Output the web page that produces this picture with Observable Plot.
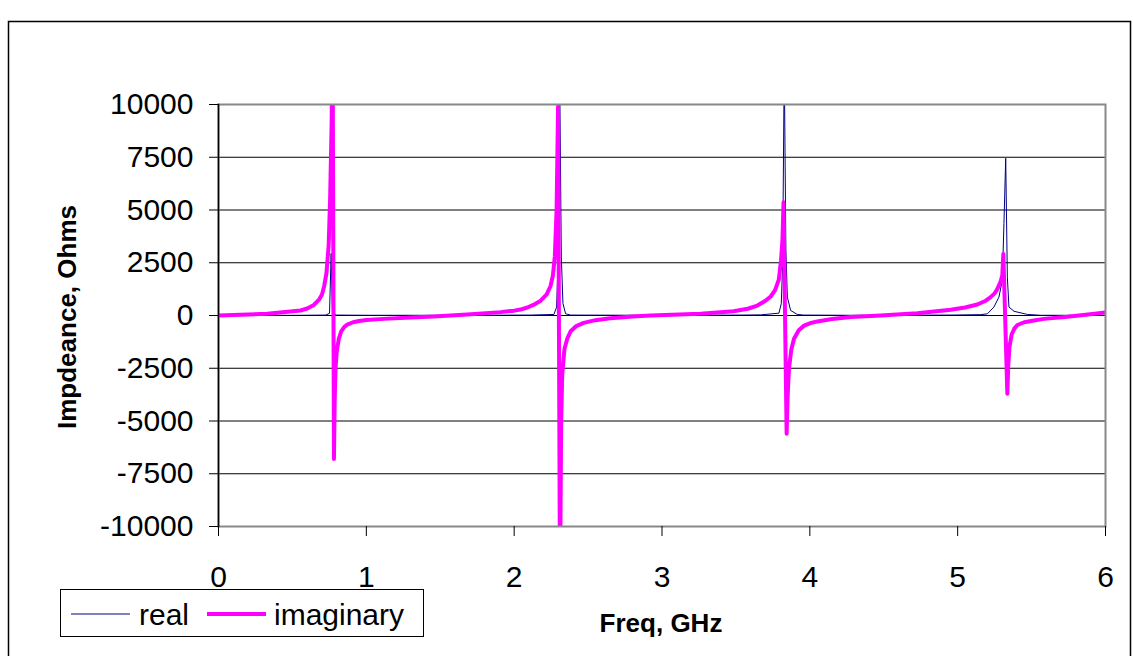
<!DOCTYPE html>
<html>
<head>
<meta charset="utf-8">
<script src="https://cdn.jsdelivr.net/npm/d3@7"></script>
<script src="https://cdn.jsdelivr.net/npm/@observablehq/plot@0.6"></script>
<style>
  html, body { margin: 0; padding: 0; background: #fff; }
  #chart { position: relative; width: 1133px; height: 656px; overflow: hidden; }
</style>
</head>
<body>
<div id="chart"></div>
<script>
// ---- data ----
const xTicks = [0, 1, 2, 3, 4, 5, 6];
const yTicks = [-10000, -7500, -5000, -2500, 0, 2500, 5000, 7500, 10000];

const realFreq = [0.000, 0.555, 0.724, 0.751, 0.762, 0.771, 0.798, 1.028, 1.570, 2.111,
  2.269, 2.287, 2.298, 2.307, 2.319, 2.330, 2.348, 2.382, 2.923, 3.532,
  3.667, 3.791, 3.807, 3.816, 3.827, 3.838, 3.848, 3.870, 3.915, 3.958,
  4.276, 4.953, 5.156, 5.201, 5.245, 5.279, 5.302, 5.313, 5.325, 5.336,
  5.347, 5.381, 5.472, 5.562, 6.000];
const realVals = [0, 10, 20, 100, 2940, 100, 20, 10, 10, 20,
  50, 400, 2770, 12000, 2770, 570, 80, 20, 10, 20,
  30, 110, 570, 2460, 12000, 3080, 870, 240, 50, 20,
  10, 20, 40, 80, 400, 870, 1660, 4360, 7450, 1820,
  400, 200, 50, 10, 10];

const imagFreq = [
  0.000, 0.149, 0.330, 0.555, 0.600, 0.645, 0.680, 0.700, 0.715, 0.730,
  0.745, 0.755, 0.765, 0.772, 0.781, 0.786, 0.792, 0.800, 0.814, 0.830,
  0.850, 0.871, 0.910, 0.950, 1.000, 1.116, 1.300, 1.455, 1.683, 1.908,
  2.000, 2.043, 2.089, 2.130, 2.179, 2.220, 2.246, 2.262, 2.275, 2.287,
  2.297, 2.310, 2.318, 2.325, 2.340, 2.359, 2.382, 2.420, 2.470, 2.550,
  2.650, 2.800, 2.923, 3.261, 3.484, 3.580, 3.645, 3.700, 3.735, 3.765,
  3.790, 3.805, 3.815, 3.822, 3.843, 3.850, 3.859, 3.875, 3.893, 3.925,
  3.961, 4.000, 4.051, 4.150, 4.276, 4.479, 4.727, 4.953, 5.050, 5.133,
  5.190, 5.223, 5.250, 5.268, 5.290, 5.302, 5.309, 5.336, 5.342, 5.350,
  5.365, 5.385, 5.404, 5.450, 5.516, 5.582, 5.742, 5.866, 6.000];
const imagVals = [
  0, 30, 80, 237, 330, 500, 750, 1000, 1400, 2000,
  3300, 5500, 9000, 13000, -6800, -4000, -2460, -1700, -1100, -750,
  -550, -430, -320, -260, -210, -160, -100, -50, 50, 160,
  230, 280, 380, 500, 700, 1000, 1400, 1900, 2800, 5000,
  9900, -13000, -5000, -2800, -1600, -1100, -750, -500, -350, -220,
  -130, -50, 0, 80, 200, 320, 470, 700, 900, 1200,
  1700, 2600, 3600, 5370, -5600, -3800, -2500, -1600, -1100, -700,
  -480, -370, -280, -170, -70, 0, 110, 270, 380, 520,
  700, 870, 1050, 1250, 1600, 1900, 2920, -3710, -2400, -1500,
  -900, -600, -450, -320, -240, -160, -60, 40, 150];

const seriesNames = ["real", "imaginary"];
const seriesColors = ["#000080", "#ff00ff"];
const seriesWidths = [1, 4];

const realData = realFreq.map((f, i) => ({f, v: realVals[i]}));
const imagData = imagFreq.map((f, i) => ({f, v: imagVals[i]}));

const font = "'Liberation Sans', Arial, Helvetica, sans-serif";

const plot = Plot.plot({
  width: 1133,
  height: 656,
  marginLeft: 218,
  marginRight: 28,
  marginTop: 104,
  marginBottom: 130,
  style: {fontFamily: font, fontSize: "30px", color: "#000", background: "transparent", overflow: "visible"},
  x: {domain: [0, 6], label: null},
  y: {domain: [-10000, 10000], label: null},
  marks: [
    Plot.gridY(yTicks, {stroke: "#000", strokeOpacity: 1, strokeWidth: 1}),
    Plot.line(realData, {x: "f", y: "v", stroke: seriesColors[0], strokeWidth: seriesWidths[0], clip: true}),
    Plot.line(imagData, {x: "f", y: "v", stroke: seriesColors[1], strokeWidth: seriesWidths[1], clip: true}),
    Plot.frame({stroke: "#888", strokeWidth: 2}),
    Plot.frame({anchor: "left", stroke: "#000", strokeWidth: 1.5}),
    Plot.axisY(yTicks, {tickSize: 9, tickPadding: 16, tickFormat: d => String(d), label: null, stroke: "#000"}),
    Plot.axisX(xTicks, {tickSize: 10, tickPadding: 29, tickFormat: d => String(d), label: null, stroke: "#000"})
  ]
});

document.getElementById("chart").appendChild(plot);

const svg = d3.select(plot);

// outer chart border
svg.append("rect")
  .attr("x", 8.5).attr("y", 21.5)
  .attr("width", 1122).attr("height", 700)
  .attr("fill", "none").attr("stroke", "#000").attr("stroke-width", 1.5);

// axis titles
svg.append("text")
  .attr("transform", "translate(76,317) rotate(-90)")
  .attr("text-anchor", "middle")
  .attr("font-family", font).attr("font-weight", "bold").attr("font-size", 26)
  .text("Impdeance, Ohms");

svg.append("text")
  .attr("x", 661).attr("y", 632)
  .attr("text-anchor", "middle")
  .attr("font-family", font).attr("font-weight", "bold").attr("font-size", 26)
  .text("Freq, GHz");

// legend
const lg = svg.append("g");
lg.append("rect")
  .attr("x", 60.5).attr("y", 589.5).attr("width", 363).attr("height", 47)
  .attr("fill", "#fff").attr("stroke", "#000").attr("stroke-width", 1);
const items = [
  {x0: 71, x1: 130, tx: 139},
  {x0: 207, x1: 266, tx: 274}
];
items.forEach((it, i) => {
  lg.append("line")
    .attr("x1", it.x0).attr("x2", it.x1).attr("y1", 614).attr("y2", 614)
    .attr("stroke", seriesColors[i]).attr("stroke-width", seriesWidths[i]);
  lg.append("text")
    .attr("x", it.tx).attr("y", 625)
    .attr("text-anchor", "start")
    .attr("font-family", font).attr("font-size", 30)
    .text(seriesNames[i]);
});
</script>
</body>
</html>
